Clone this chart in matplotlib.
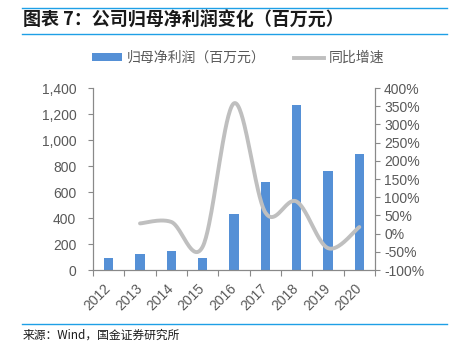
import numpy as np
import matplotlib
matplotlib.use("Agg")
import matplotlib.pyplot as plt
import matplotlib.transforms as mtransforms
from matplotlib.lines import Line2D
from matplotlib.patches import Patch
from matplotlib.ticker import FuncFormatter, FixedLocator

plt.rcParams['font.family'] = ['Liberation Sans', 'Noto Sans CJK SC', 'DejaVu Sans']

years = ['2012', '2013', '2014', '2015', '2016', '2017', '2018', '2019', '2020']
net_profit = [93, 124, 149, 93, 427, 677, 1271, 761, 889]          # 百万元
growth_years = ['2013', '2014', '2015', '2016', '2017', '2018', '2019', '2020']
growth = [28, 32, -36, 358, 58, 88, -40, 18]                      # %

bar_color = '#5590D6'
line_color = '#BFBFBF'
text_color = '#595959'
axis_color = '#898989'
rule_color = '#1E9FE6'
cjk = ['Noto Sans CJK SC', 'DejaVu Sans']


def smooth_curve(xs, ys, n=40):
    """Piecewise cubic Bezier through the points (spreadsheet-style smoothed line)."""
    xs = np.asarray(xs, float)
    ys = np.asarray(ys, float)
    px, py = [], []
    m = len(xs)
    for i in range(m - 1):
        i0, i3 = max(i - 1, 0), min(i + 2, m - 1)
        p0 = np.array([xs[i0], ys[i0]])
        p1 = np.array([xs[i], ys[i]])
        p2 = np.array([xs[i + 1], ys[i + 1]])
        p3 = np.array([xs[i3], ys[i3]])
        c1 = p1 + (p2 - p0) / 6.0
        c2 = p2 - (p3 - p1) / 6.0
        t = np.linspace(0, 1, n)[:, None]
        seg = ((1 - t) ** 3) * p1 + 3 * ((1 - t) ** 2) * t * c1 + 3 * (1 - t) * t ** 2 * c2 + t ** 3 * p2
        if i > 0:
            seg = seg[1:]
        px.extend(seg[:, 0])
        py.extend(seg[:, 1])
    return np.array(px), np.array(py)


fig = plt.figure(figsize=(4.56, 3.43), dpi=100)
ax = fig.add_axes([93 / 456, 1 - 270 / 343, (375 - 93) / 456, (270 - 88) / 343])
ax2 = ax.twinx()

x = np.arange(len(years))
ax.bar(x, net_profit, width=0.3, color=bar_color, zorder=2)
ax.set_xlim(-0.5, len(years) - 0.5)
ax.set_ylim(0, 1400)
ax.set_yticks(np.arange(0, 1401, 200))
ax.yaxis.set_major_formatter(FuncFormatter(lambda v, p: f'{int(v):,}'))

gx = np.array([years.index(y) for y in growth_years])
sx, sy = smooth_curve(gx, growth)
ax2.plot(sx, sy, color=line_color, lw=2.8, solid_capstyle='round', zorder=3)
ax2.set_ylim(-100, 400)
ax2.set_yticks(np.arange(-100, 401, 50))
ax2.yaxis.set_major_formatter(FuncFormatter(lambda v, p: f'{int(v)}%'))

# category labels at centres, tick marks at category boundaries
ax.set_xticks(x)
ax.set_xticklabels(years, rotation=45, ha='right', va='top')
ax.xaxis.set_minor_locator(FixedLocator(np.arange(-0.5, len(years), 1.0)))
ax.tick_params(axis='x', which='major', length=0, pad=8, labelsize=10, labelcolor=text_color)
ax.tick_params(axis='x', which='minor', length=4, color=axis_color, width=0.8)
ax.tick_params(axis='y', length=3.5, color=axis_color, width=0.8, labelsize=10, labelcolor=text_color, pad=8.5)
ax2.tick_params(axis='y', length=3.5, color=axis_color, width=0.8, labelsize=10, labelcolor=text_color, pad=3)

for a in (ax, ax2):
    a.spines['top'].set_visible(False)
    for s in ('left', 'right', 'bottom'):
        a.spines[s].set_color(axis_color)
        a.spines[s].set_linewidth(0.8)

shift = mtransforms.ScaledTranslation(5 / 100, 0, fig.dpi_scale_trans)
for lbl in ax.get_xticklabels():
    lbl.set_fontfamily(['Liberation Sans', 'DejaVu Sans'])
    lbl.set_transform(lbl.get_transform() + shift)

# legend
handles = [Patch(facecolor=bar_color, edgecolor='none'),
           Line2D([0], [0], color=line_color, lw=2.8)]
fig.legend(handles, ['归母净利润（百万元）', '同比增速'], loc='center',
           bbox_to_anchor=(238 / 456, 1 - 58 / 343), ncol=2, frameon=False,
           prop={'family': cjk, 'size': 10}, labelcolor=text_color,
           handlelength=2.2, handleheight=0.5, handletextpad=0.35, columnspacing=2.0)

# header and footer
fig.add_artist(Line2D([22 / 456, 447 / 456], [1 - 8 / 343] * 2, color=rule_color, lw=1.0))
fig.add_artist(Line2D([22 / 456, 447 / 456], [1 - 34 / 343] * 2, color=rule_color, lw=1.0))
fig.text(23 / 456, 1 - 20 / 343, '图表 7：公司归母净利润变化（百万元）', fontfamily=cjk,
         fontsize=13, fontweight='bold', color='#1a1a1a', va='center', ha='left')
fig.add_artist(Line2D([22 / 456, 447 / 456], [1 - 324 / 343] * 2, color=rule_color, lw=1.0))
fig.text(23 / 456, 1 - 335 / 343, '来源：Wind，国金证券研究所', fontfamily=cjk,
         fontsize=8.5, color='#1a1a1a', va='center', ha='left')

fig.savefig('out.png', dpi=100)
